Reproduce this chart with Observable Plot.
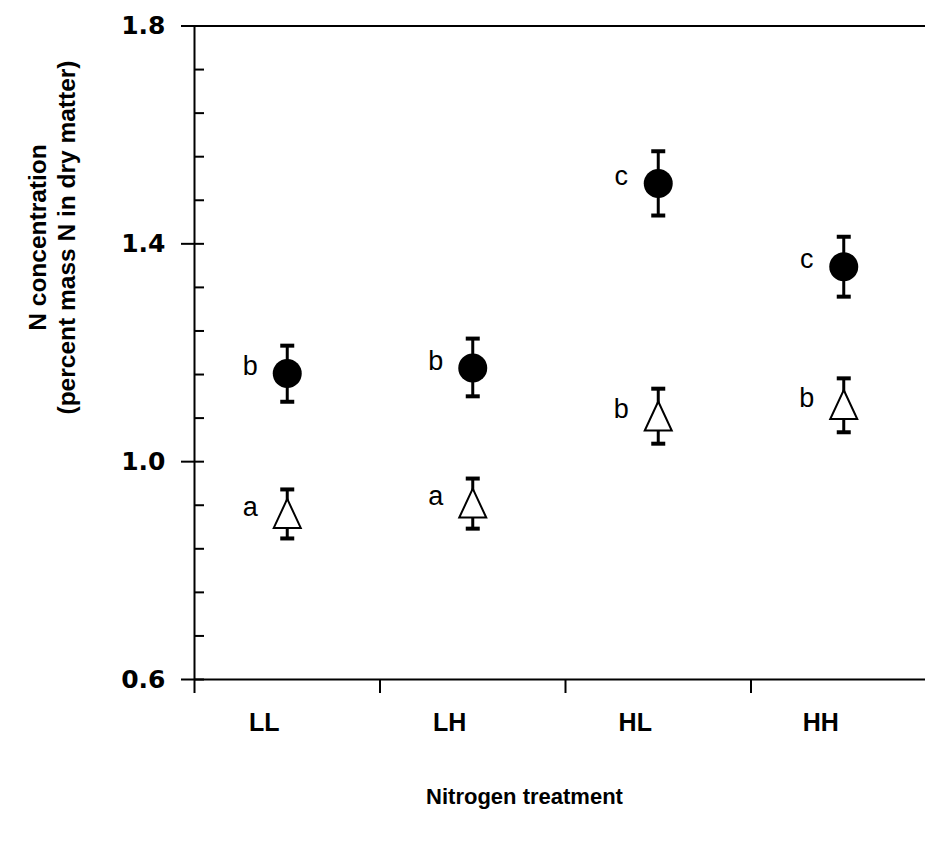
<!DOCTYPE html>
<html><head><meta charset="utf-8">
<script src="https://cdn.jsdelivr.net/npm/d3@7"></script>
<script src="https://cdn.jsdelivr.net/npm/@observablehq/plot@0.6"></script>
<style>html,body{margin:0;padding:0;background:#fff;overflow:hidden}</style>
</head><body><div id="chart"></div>
<script>
// ---- data ----
const treatments = ["LL", "LH", "HL", "HH"];
const circleMean = [1.162, 1.172, 1.511, 1.358];
const circleLo   = [1.110, 1.120, 1.452, 1.303];
const circleHi   = [1.213, 1.226, 1.570, 1.413];
const circleLetter = ["b", "b", "c", "c"];
const triMean = [0.904, 0.923, 1.083, 1.104];
const triLo   = [0.859, 0.877, 1.033, 1.054];
const triHi   = [0.949, 0.969, 1.134, 1.153];
const triLetter = ["a", "a", "b", "b"];
const yMajorTicks = [0.6, 1.0, 1.4, 1.8];
const yMinorTicks = [0.6, 0.68, 0.76, 0.84, 0.92, 1.0, 1.08, 1.16, 1.24, 1.32, 1.4, 1.48, 1.56, 1.64, 1.72, 1.8];
const xTicks = [0, 1, 2, 3];
const yTitle = "N concentration\n(percent mass N in dry matter)";
const xTitle = "Nitrogen treatment";

// ---- build tables ----
const circles = treatments.map((t, i) => ({t, x: i + 0.5, mean: circleMean[i], lo: circleLo[i], hi: circleHi[i], letter: circleLetter[i]}));
const tris = treatments.map((t, i) => ({t, x: i + 0.5, mean: triMean[i], lo: triLo[i], hi: triHi[i], letter: triLetter[i]}));
const all = circles.concat(tris);

const capSymbol = {draw(ctx) { ctx.moveTo(-7, 0); ctx.lineTo(7, 0); }};
const triSymbol = {draw(ctx) { ctx.moveTo(0, -15); ctx.lineTo(13.5, 14); ctx.lineTo(-13.5, 14); ctx.closePath(); }};

const W = 925, H = 843, ML = 194, MT = 25.5, MB = 164;
const frameW = W - ML;
const sans = "'Liberation Sans', Arial, Helvetica, sans-serif";

const chart = Plot.plot({
  width: W, height: H,
  marginLeft: ML, marginRight: 0, marginTop: MT, marginBottom: MB,
  style: {fontFamily: sans, background: "#fff", color: "#000"},
  x: {type: "linear", domain: [0, 4], range: [ML, ML + 4 * 185.5], axis: null},
  y: {domain: [0.6, 1.8], axis: null},
  marks: [
    Plot.ruleY([0.6, 1.8], {stroke: "#000", strokeWidth: 2}),
    Plot.ruleX([0], {stroke: "#000", strokeWidth: 2}),
    Plot.axisY(yMajorTicks, {anchor: "left", tickSize: 13, tickPadding: 16, tickFormat: d3.format(".1f"),
      fontFamily: "'DejaVu Sans', sans-serif", fontSize: 25, fontWeight: "bold", strokeWidth: 2, label: null}),
    Plot.tickY(yMinorTicks, {y: d => d, insetRight: frameW - 10, stroke: "#000", strokeWidth: 2}),
    Plot.axisX(xTicks, {anchor: "bottom", tickSize: 14, tickFormat: () => "", strokeWidth: 2, label: null}),
    Plot.text(treatments, {x: (d, i) => i + 0.5, text: d => d, frameAnchor: "bottom", dy: 43, dx: -23,
      lineAnchor: "middle", textAnchor: "middle", fontSize: 25, fontWeight: "bold", fill: "#000"}),
    Plot.ruleX(all, {x: "x", y1: "lo", y2: "hi", stroke: "#000", strokeWidth: 3}),
    Plot.dot(all, {x: "x", y: "lo", symbol: capSymbol, stroke: "#000", fill: "none", strokeWidth: 4}),
    Plot.dot(all, {x: "x", y: "hi", symbol: capSymbol, stroke: "#000", fill: "none", strokeWidth: 4}),
    Plot.dot(circles, {x: "x", y: "mean", r: 14.5, fill: "#000", stroke: "none"}),
    Plot.dot(tris, {x: "x", y: "mean", symbol: triSymbol, fill: "#fff", stroke: "#000", strokeWidth: 2}),
    Plot.text(all, {x: "x", y: "mean", text: "letter", dx: -37, dy: -7, fontSize: 27, fill: "#000", textAnchor: "middle"}),
    Plot.text([yTitle], {frameAnchor: "top-left", dx: -143.5, dy: 211.5, rotate: -90, textAnchor: "middle", lineAnchor: "middle",
      lineHeight: 1.2, fontSize: 24.5, fontWeight: "bold", fill: "#000"}),
    Plot.text([xTitle], {frameAnchor: "bottom-left", dx: 330, dy: 117, textAnchor: "middle", lineAnchor: "middle",
      fontSize: 22, fontWeight: "bold", fill: "#000"})
  ]
});
document.getElementById("chart").appendChild(chart);
</script>
</body></html>
